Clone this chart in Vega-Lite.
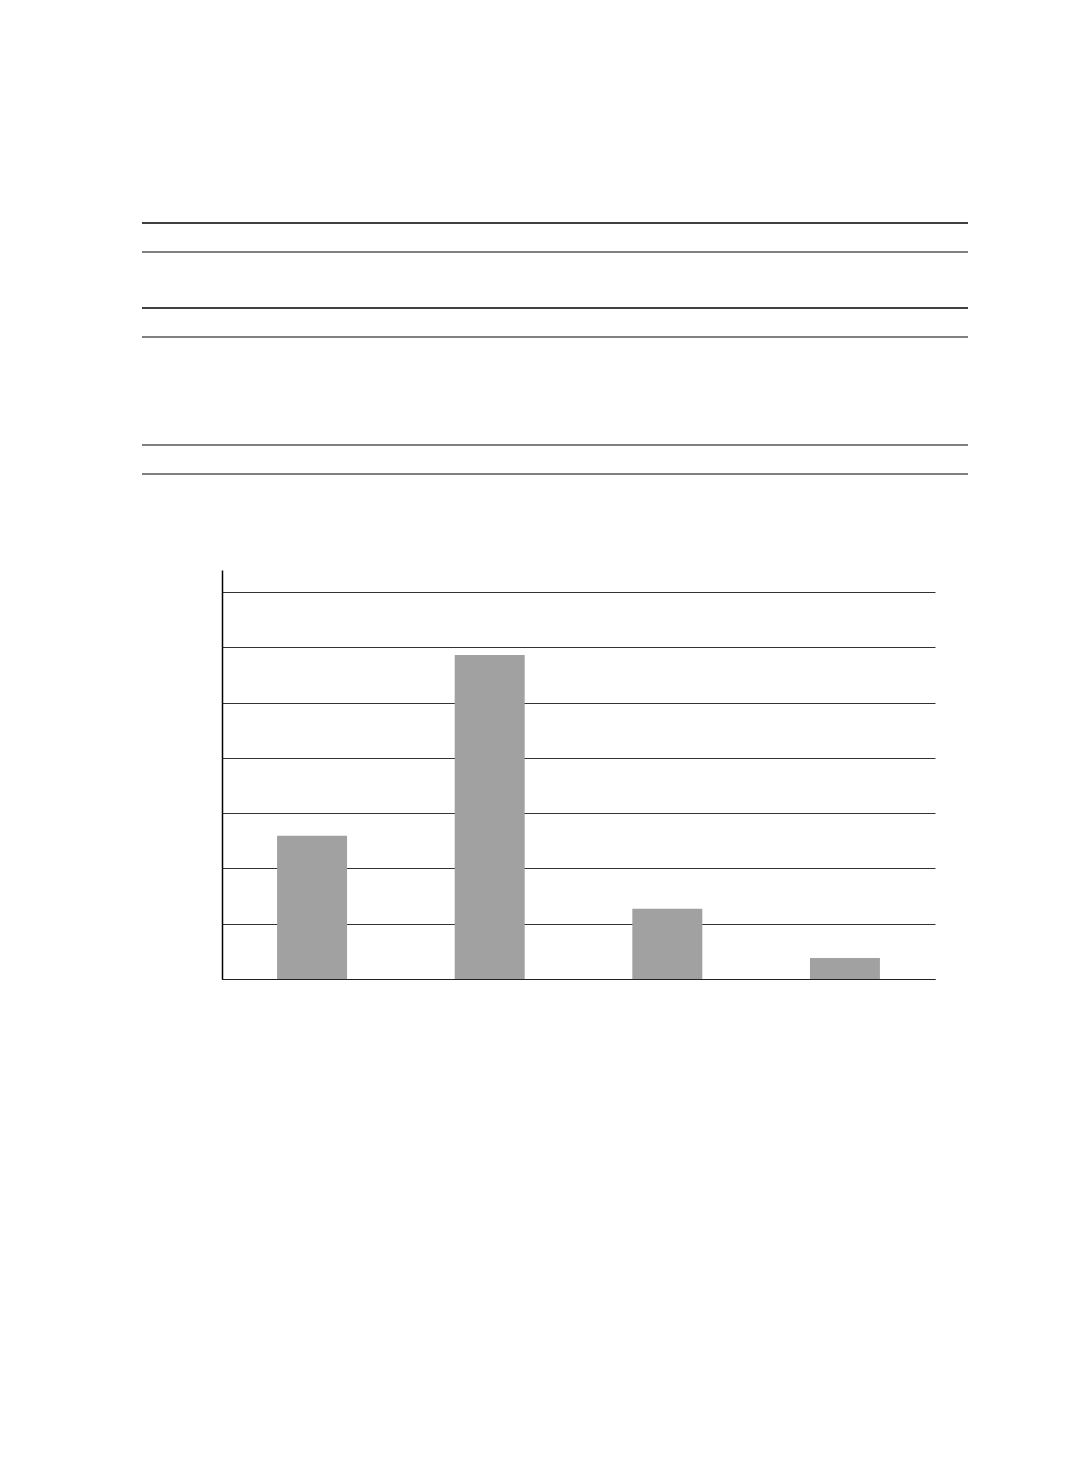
{
  "$schema": "https://vega.github.io/schema/vega-lite/v6.json",
  "background": "white",
  "padding": {"left": 140, "top": 222, "right": 5, "bottom": 5},
  "spacing": 94,
  "config": {"view": {"stroke": null}},
  "vconcat": [
    {
      "width": 826,
      "height": 251,
      "data": {
        "values": [
          {"rule": "head top", "pos": 0, "kind": "thin"},
          {"rule": "head bottom", "pos": 29, "kind": "thick"},
          {"rule": "group 1 top", "pos": 85, "kind": "thin"},
          {"rule": "group 1 bottom", "pos": 114, "kind": "thick"},
          {"rule": "group 2 top", "pos": 222, "kind": "thick"},
          {"rule": "table bottom", "pos": 251, "kind": "thick"}
        ]
      },
      "mark": {"type": "rule"},
      "encoding": {
        "y": {
          "field": "pos",
          "type": "quantitative",
          "scale": {"domain": [0, 251], "reverse": true, "nice": false, "zero": false},
          "axis": null
        },
        "color": {
          "field": "kind",
          "type": "nominal",
          "scale": {"domain": ["thin", "thick"], "range": ["#000000", "#808080"]},
          "legend": null
        },
        "strokeWidth": {
          "field": "kind",
          "type": "nominal",
          "scale": {"domain": ["thin", "thick"], "range": [1.3, 2.2]},
          "legend": null
        }
      }
    },
    {
      "spacing": 0,
      "hconcat": [
        {
          "width": 80,
          "height": 409,
          "data": {"values": []},
          "mark": {"type": "point"}
        },
        {
          "width": 713,
          "height": 409,
          "data": {
            "values": [
              {"group": "1", "value": 2.59},
              {"group": "2", "value": 5.86},
              {"group": "3", "value": 1.27},
              {"group": "4", "value": 0.38}
            ]
          },
          "mark": {"type": "bar", "color": "#a0a1a0"},
          "encoding": {
            "x": {
              "field": "group",
              "type": "nominal",
              "scale": {"paddingInner": 0.606, "paddingOuter": 0.31},
              "axis": {"labels": false, "ticks": false, "title": null, "domainColor": "#222", "domainWidth": 1.2}
            },
            "y": {
              "field": "value",
              "type": "quantitative",
              "scale": {"domain": [0, 7.4], "nice": false},
              "axis": {
                "values": [0, 1, 2, 3, 4, 5, 6, 7],
                "labels": false,
                "ticks": false,
                "title": null,
                "grid": true,
                "gridColor": "#333",
                "gridWidth": 1.2,
                "domainColor": "#000",
                "domainWidth": 1.5,
                "minExtent": 0,
                "maxExtent": 0
              }
            }
          }
        }
      ]
    }
  ]
}
